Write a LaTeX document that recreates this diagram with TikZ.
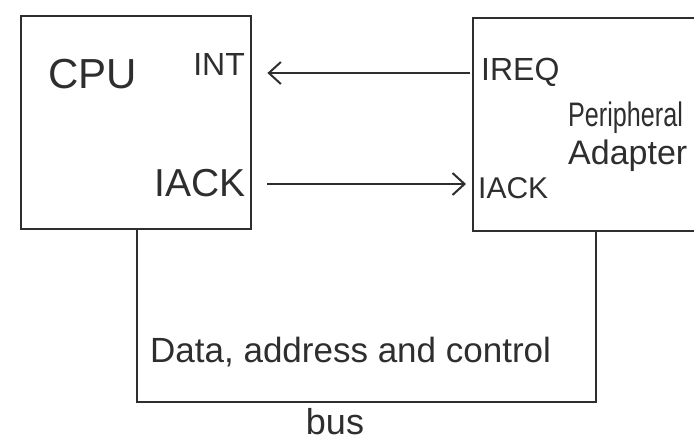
\documentclass[tikz,border=0pt]{standalone}
\usepackage{fontspec}
\setmainfont{Liberation Sans}
\usetikzlibrary{arrows.meta}
\definecolor{ink}{HTML}{2E2E2E}
\begin{document}
\begin{tikzpicture}[x=1pt,y=-1pt,
  unit/.style={draw=ink, line width=2.4pt, anchor=north west, inner sep=0pt},
  pin/.style={text=ink, inner sep=0pt, font=\fontsize{26}{28}\selectfont},
  sig/.style={draw=ink, line width=2pt, -{Straight Barb[length=12pt, width=22pt, line width=2pt]}},
  busline/.style={draw=ink, line width=2.2pt, line join=miter}]
\useasboundingbox (0,0) rectangle (694,441);
\clip (0,0) rectangle (694,441);

% processor and adapter blocks
\node[unit, minimum width=230pt, minimum height=213pt] (cpu) at (20,15) {};
\node[unit, minimum width=260pt, minimum height=213pt] (pa) at (472,17) {};

% labels inside the processor
\node[pin, anchor=west, font=\fontsize{42}{44}\selectfont] (cpuname) at (48,74) {CPU};
\node[pin, anchor=east, font=\fontsize{32}{34}\selectfont] (int) at (245,64) {INT};
\node[pin, anchor=east, font=\fontsize{39}{41}\selectfont] (iackout) at (246,183) {IACK};

% labels inside the adapter
\node[pin, anchor=west, font=\fontsize{32}{34}\selectfont] (ireq) at (481,72) {IREQ};
\node[pin, anchor=west, font=\fontsize{30}{32}\selectfont] (iackin) at (478,188) {IACK};
\node[pin, anchor=west, align=left, font=\fontsize{34}{38}\selectfont] (paname) at (568,137)
  {\scalebox{0.74}[1]{Peripheral}\\Adapter};

% interrupt request and acknowledge lines
\coordinate (reqsrc) at ([xshift=-2pt]pa.west |- 0,73);
\coordinate (reqdst) at ([xshift=15pt]cpu.east |- 0,73);
\draw[sig] (reqsrc) -- (reqdst);
\coordinate (acksrc) at ([xshift=15pt]cpu.east |- 0,184);
\coordinate (ackdst) at ([xshift=-6pt]pa.west |- 0,184);
\draw[sig] (acksrc) -- (ackdst);

% system bus
\coordinate (busl) at ([xshift=117pt]cpu.south west);
\coordinate (busr) at ([xshift=124pt]pa.south west);
\draw[busline] (busl) -- (busl |- 0,402) -- (busr |- 0,402) -- (busr);
\node[pin, anchor=west, font=\fontsize{35}{37}\selectfont] (buslabel) at (150,352) {Data, address and control};
\node[pin, font=\fontsize{36}{38}\selectfont] (busname) at (335,422) {bus};
\end{tikzpicture}
\end{document}
